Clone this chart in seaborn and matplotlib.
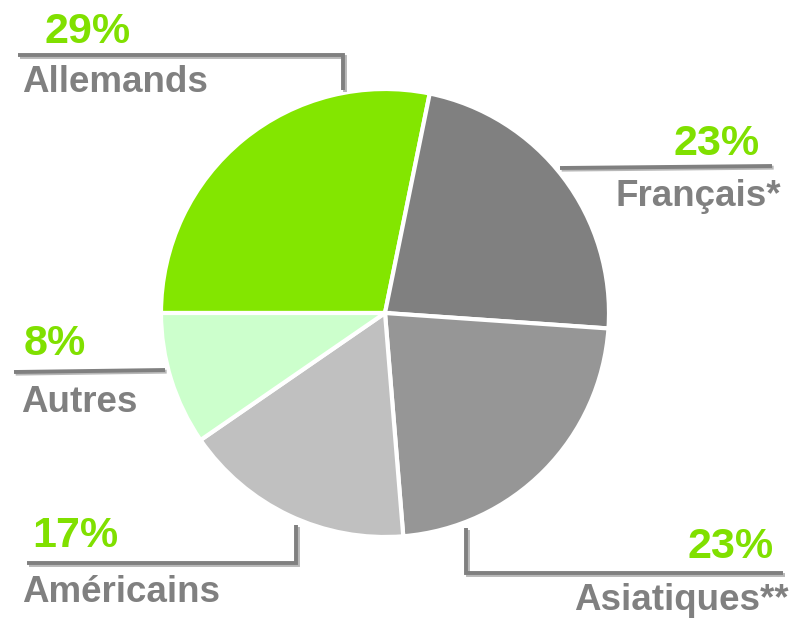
import matplotlib
matplotlib.use("Agg")
import matplotlib.pyplot as plt
import matplotlib.patheffects as pe
import seaborn as sns

# données (parts estimées à partir des angles des secteurs)
groups = ["Allemands", "Français*", "Asiatiques**", "Américains", "Autres"]
shares = [28.2, 22.9, 22.6, 16.7, 9.6]
pct_labels = ["29%", "23%", "23%", "17%", "8%"]
colors = ["#83e600", "#808080", "#969696", "#c0c0c0", "#ccffcc"]

W, H = 805, 620
GREEN = "#80e000"
GREY = "#808080"

sns.set_theme(style="white")
plt.rcParams["font.family"] = ["Liberation Sans", "DejaVu Sans"]


def fy(y):
    # coordonnées en pixels depuis le haut de l'image
    return H - y


# position des étiquettes et des traits de rappel (pixels)
layout = {
    "Allemands": dict(line=[(18, 55), (343, 55), (343, 90)],
                      pct=(44, 43, "left"), name=(22, 92, "left")),
    "Français*": dict(line=[(560, 168), (772, 166)],
                      pct=(760, 155, "right"), name=(781, 206, "right")),
    "Asiatiques**": dict(line=[(466, 528), (466, 573), (783, 573)],
                         pct=(774, 558, "right"), name=(789, 610, "right")),
    "Américains": dict(line=[(296, 525), (296, 563), (27, 563)],
                       pct=(32, 547, "left"), name=(22, 602, "left")),
    "Autres": dict(line=[(14, 372), (165, 370)],
                   pct=(24, 355, "left"), name=(21, 412, "left")),
}

fig = plt.figure(figsize=(W / 100, H / 100), dpi=100)
ax = fig.add_axes([0, 0, 1, 1])

ax.pie(shares, colors=colors, startangle=180, counterclock=False,
       center=(385, fy(313)), radius=224,
       wedgeprops=dict(edgecolor="white", linewidth=3))
ax.set_xlim(0, W)
ax.set_ylim(0, H)
ax.set_aspect("equal")
ax.axis("off")

shadow = [pe.SimpleLineShadow(offset=(1.2, -1.2), shadow_color="#b8b8b8", alpha=1, rho=1),
          pe.Normal()]

for g, p in zip(groups, pct_labels):
    lay = layout[g]
    xs = [pt[0] for pt in lay["line"]]
    ys = [fy(pt[1]) for pt in lay["line"]]
    ax.plot(xs, ys, color=GREY, lw=2.8, solid_capstyle="butt",
            solid_joinstyle="miter", path_effects=shadow, zorder=1)
    x, y, ha = lay["pct"]
    ax.text(x, fy(y), p, color=GREEN, fontsize=31, fontweight="bold",
            ha=ha, va="baseline")
    x, y, ha = lay["name"]
    ax.text(x, fy(y), g, color=GREY, fontsize=26.5, fontweight="bold",
            ha=ha, va="baseline")

fig.savefig("out.png", dpi=100, facecolor="white")
